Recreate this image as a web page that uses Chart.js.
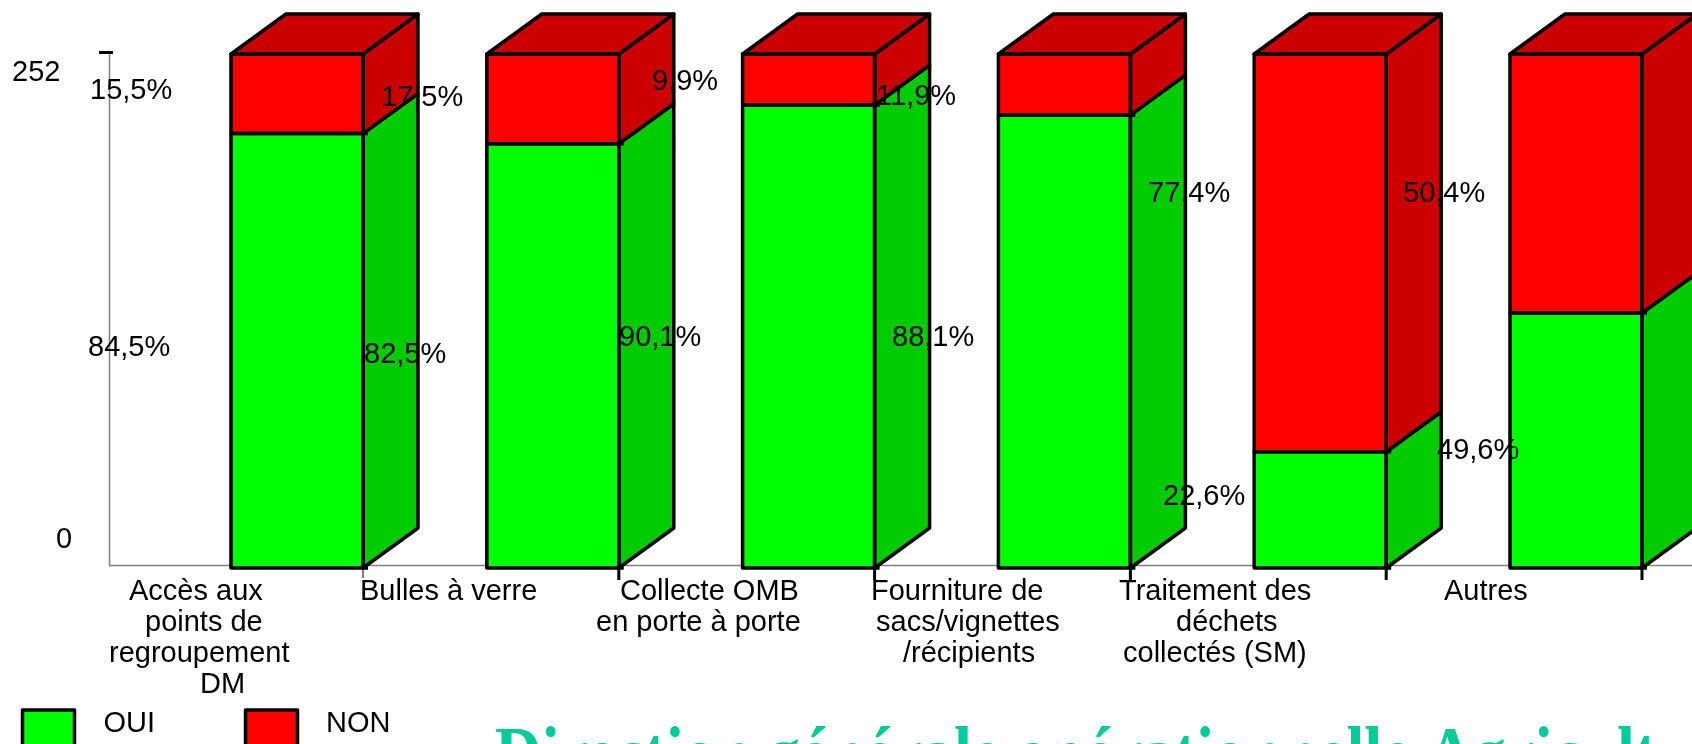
<!DOCTYPE html>
<html>
<head>
<meta charset="utf-8">
<title>OUI / NON</title>
<script src="https://cdn.jsdelivr.net/npm/chart.js@4/dist/chart.umd.min.js"></script>
<style>
  html, body { margin: 0; padding: 0; background: #fff; overflow: hidden; }
  canvas { display: block; }
</style>
</head>
<body>
<!-- last bar runs past the right edge of the window, like in the source picture -->
<canvas id="chart" width="1704" height="744"></canvas>
<script>
// Chart data
const categories = [
    ['Accès aux', 'points de', 'regroupement', 'DM'],
    ['Bulles à verre'],
    ['Collecte OMB', 'en porte à porte'],
    ['Fourniture de', 'sacs/vignettes', '/récipients'],
    ['Traitement des', 'déchets', 'collectés (SM)'],
    ['Autres']
];
const ouiValues = [213, 208, 227, 222, 57, 125];
const nonValues = [39, 44, 25, 30, 195, 127];
const ouiLabels = ['84,5%', '82,5%', '90,1%', '88,1%', '22,6%', '49,6%'];
const nonLabels = ['15,5%', '17,5%', '9,9%', '11,9%', '77,4%', '50,4%'];
const yTicks = [0, 252];
const titleText = 'Direction générale opérationnelle Agriculture';

// Text placement (left x, baseline y)
const ouiLabelPos = [[88, 356], [364, 363], [619, 346], [892, 346], [1163, 505], [1437, 459]];
const nonLabelPos = [[90, 99], [381, 106], [652, 90], [876, 105], [1148, 202], [1403, 202]];
const categoryLineX = [
    [129, 145, 109, 200],
    [360],
    [620, 596],
    [871, 876, 903],
    [1119, 1176, 1123],
    [1444]
];
const yTickPos = { 0: [56, 548], 252: [12, 81] };

const FONT = '29px "Liberation Sans", Arial, sans-serif';
const DEPTH_X = 55;
const DEPTH_Y = 40;
const AXIS_GREY = '#808080';
const DARK = { '#00ff00': '#00cc00', '#ff0000': '#cc0000' };

function polygon(ctx, points, fill) {
    ctx.beginPath();
    points.forEach((p, i) => (i ? ctx.lineTo(p[0], p[1]) : ctx.moveTo(p[0], p[1])));
    ctx.closePath();
    if (fill) {
        ctx.fillStyle = fill;
        ctx.fill();
    }
    ctx.stroke();
}

const boxPlugin = {
    id: 'box3d',
    // Axis lines sit under the bars
    beforeDatasetsDraw(chart) {
        const { ctx } = chart;
        const base = chart.scales.y.getPixelForValue(0) - 2.5;
        const top = chart.scales.y.getPixelForValue(252) - 1.5;
        ctx.save();
        ctx.strokeStyle = AXIS_GREY;
        ctx.lineWidth = 1.5;
        ctx.beginPath();
        ctx.moveTo(109.5, top);
        ctx.lineTo(109.5, base);
        ctx.lineTo(chart.width, base);
        ctx.stroke();
        ctx.strokeStyle = '#000';
        ctx.lineWidth = 3;
        ctx.beginPath();
        ctx.moveTo(99, top);
        ctx.lineTo(113, top);
        ctx.stroke();
        ctx.restore();
    },
    afterDatasetsDraw(chart) {
        const { ctx } = chart;
        const ouiMeta = chart.getDatasetMeta(0).data;
        const nonMeta = chart.getDatasetMeta(1).data;
        ctx.save();
        ctx.strokeStyle = '#000';
        ctx.lineWidth = 3.5;
        ctx.lineJoin = 'round';

        // Side and top faces, then the front outline, for each stacked part
        [ouiMeta, nonMeta].forEach((bars, d) => {
            const color = chart.data.datasets[d].backgroundColor;
            bars.forEach((bar) => {
                const left = bar.x - bar.width / 2;
                const right = bar.x + bar.width / 2;
                const up = Math.min(bar.y, bar.base);
                const low = Math.max(bar.y, bar.base);
                polygon(ctx, [
                    [right, low], [right, up],
                    [right + DEPTH_X, up - DEPTH_Y], [right + DEPTH_X, low - DEPTH_Y]
                ], DARK[color]);
                if (d === 1) {
                    polygon(ctx, [
                        [left, up], [right, up],
                        [right + DEPTH_X, up - DEPTH_Y], [left + DEPTH_X, up - DEPTH_Y]
                    ], DARK[color]);
                }
                polygon(ctx, [[left, up], [right, up], [right, low], [left, low]]);
                // small nub at the right end of the lower edge
                ctx.beginPath();
                ctx.moveTo(right, low);
                ctx.lineTo(right + 5, low);
                ctx.stroke();
            });
        });

        // Tick marks below the bar corners, the first one came out thin
        ouiMeta.forEach((bar, i) => {
            const right = bar.x + bar.width / 2;
            ctx.lineWidth = i === 0 ? 1 : 3;
            ctx.beginPath();
            ctx.moveTo(right, bar.base);
            ctx.lineTo(right, bar.base + (i === 0 ? 10 : 12));
            ctx.stroke();
        });

        // Percentage labels go on top of everything
        ctx.fillStyle = '#000';
        ctx.font = FONT;
        ctx.textBaseline = 'alphabetic';
        ctx.textAlign = 'left';
        ouiLabels.forEach((t, i) => ctx.fillText(t, ouiLabelPos[i][0], ouiLabelPos[i][1]));
        nonLabels.forEach((t, i) => ctx.fillText(t, nonLabelPos[i][0], nonLabelPos[i][1]));

        // y tick labels
        chart.scales.y.ticks.forEach((tick) => {
            const pos = yTickPos[tick.value];
            if (pos) ctx.fillText(String(tick.value), pos[0], pos[1]);
        });

        // category labels, one line at a time
        chart.data.labels.forEach((lines, i) => {
            lines.forEach((line, j) => {
                ctx.fillText(line, categoryLineX[i][j], 599.5 + j * 31);
            });
        });

        // legend
        ctx.lineWidth = 3.5;
        const swatchX = [22.5, 245.5];
        const legendTextX = [103.5, 326];
        chart.data.datasets.forEach((ds, i) => {
            ctx.fillStyle = ds.backgroundColor;
            ctx.fillRect(swatchX[i], 710, 52, 40);
            ctx.strokeRect(swatchX[i], 710, 52, 40);
            ctx.fillStyle = '#000';
            ctx.fillText(ds.label, legendTextX[i], 732);
        });

        // title runs off the page in the source picture, and is a bit stretched in height
        ctx.fillStyle = '#00cc99';
        ctx.font = 'bold 64.5px "Liberation Serif", "Times New Roman", serif';
        ctx.translate(495, 778);
        ctx.scale(1, 1.157);
        ctx.fillText(titleText, 0, 0);
        ctx.restore();
    }
};

new Chart(document.getElementById('chart'), {
    type: 'bar',
    data: {
        labels: categories,
        datasets: [
            { label: 'OUI', data: ouiValues, backgroundColor: '#00ff00', borderWidth: 0 },
            { label: 'NON', data: nonValues, backgroundColor: '#ff0000', borderWidth: 0 }
        ]
    },
    options: {
        responsive: false,
        animation: false,
        categoryPercentage: 1,
        barPercentage: 0.516,
        layout: { padding: { left: 169.1, right: 0.1, top: 54, bottom: 176 } },
        scales: {
            x: { display: false, stacked: true },
            y: {
                display: false,
                stacked: true,
                min: 0,
                max: 252,
                afterBuildTicks: (scale) => { scale.ticks = yTicks.map(v => ({ value: v })); }
            }
        },
        plugins: {
            legend: { display: false },
            tooltip: { enabled: false }
        }
    },
    plugins: [boxPlugin]
});
</script>
</body>
</html>
